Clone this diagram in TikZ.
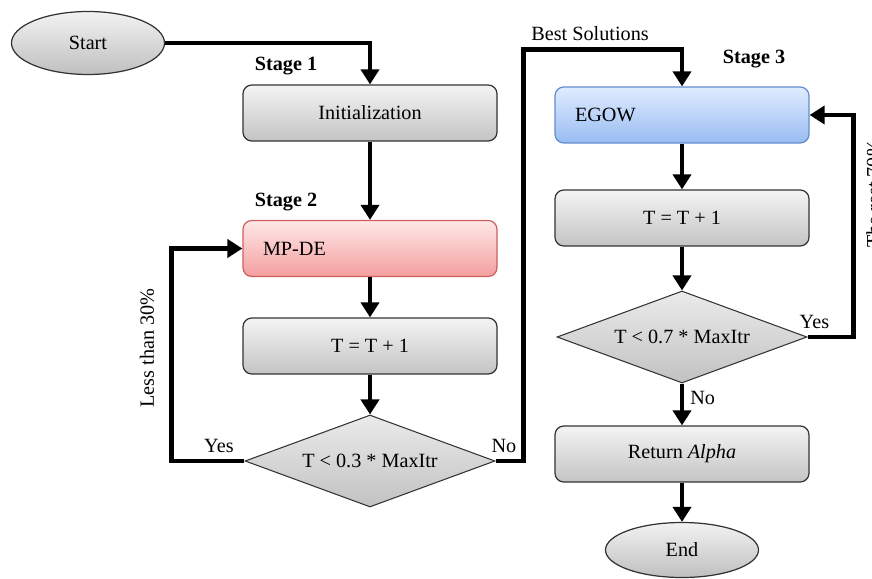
\documentclass[tikz,border=0pt]{standalone}
\usepackage{fontspec}
\setmainfont{Liberation Serif}
\usetikzlibrary{arrows.meta,positioning,shapes.geometric}
\newcommand{\fcfont}{\fontsize{11.5}{13}\selectfont}
\definecolor{fcgraytop}{RGB}{244,244,244}
\definecolor{fcgraybot}{RGB}{196,196,196}
\definecolor{fcredtop}{RGB}{255,232,232}
\definecolor{fcredbot}{RGB}{244,158,158}
\definecolor{fcredline}{RGB}{205,95,95}
\definecolor{fcbluetop}{RGB}{224,236,255}
\definecolor{fcbluebot}{RGB}{152,188,242}
\definecolor{fcblueline}{RGB}{100,140,205}
\tikzset{box/.style={draw=black!80,line width=0.7pt,rounded corners=5pt,minimum width=5.08cm,minimum height=1.12cm,
    inner sep=0pt,align=center,font=\fcfont,top color=fcgraytop,bottom color=fcgraybot},
  stagebox/.style={box,text width=4.28cm,align=left},
  decision/.style={diamond,draw=black!80,line width=0.6pt,minimum width=5.0cm,minimum height=1.84cm,aspect=2.7,
    inner sep=0pt,font=\fcfont,top color=black!8,bottom color=black!24},
  terminal/.style={ellipse,draw=black!80,line width=0.7pt,minimum width=3.06cm,minimum height=1.2cm,
    font=\fcfont,top color=black!5,bottom color=black!25},
  flow/.style={-{Triangle[length=0.3cm,width=0.36cm]},line width=2.8pt},
  labeltext/.style={font=\fcfont},
  stagetext/.style={font=\fcfont\bfseries}}

\begin{document}
\begin{tikzpicture}[x=1cm,y=1cm]
\useasboundingbox (0,0) rectangle (17.44,-11.58);
\node[terminal,minimum height=1.26cm] (start) at (1.76,-0.86) {Start};
\node[box] (init) at (7.40,-2.26) {Initialization};
\node[stagebox,top color=fcredtop,bottom color=fcredbot,draw=fcredline] (mpde) at (7.40,-4.97) {MP-DE};
\node[box] (inc1) at (7.40,-6.92) {T = T + 1};
\node[decision] (test1) at (7.40,-9.22) {T < 0.3 * MaxItr};
\node[stagebox,top color=fcbluetop,bottom color=fcbluebot,draw=fcblueline] (egow) at (13.64,-2.30) {EGOW};
\node[box] (inc2) at (13.64,-4.36) {T = T + 1};
\node[decision] (test2) at (13.64,-6.74) {T < 0.7 * MaxItr};
\node[box] (ret) at (13.64,-9.08) {Return \textit{Alpha}};
\node[terminal,minimum height=1.1cm] (stop) at (13.64,-11.0) {End};
% stage titles and side notes
\node[stagetext] (s1) at (5.72,-1.32) {Stage 1};
\node[stagetext] (s2) at (5.72,-4.04) {Stage 2};
\node[stagetext] (s3) at (15.08,-1.18) {Stage 3};
\node[labeltext,rotate=90] (lt30) at (2.94,-6.96) {Less than 30\%};
\node[labeltext,rotate=90] (rest70) at (17.47,-3.88) {The rest 70\%};
% stage 1 and 2
\draw[flow] (start.east) -| (init.north);
\draw[flow] (init) -- (mpde);
\draw[flow] (mpde) -- (inc1);
\draw[flow] (inc1) -- (test1);
\draw[flow] (test1.west) -- node[labeltext,above,pos=0.35] {Yes} ++(-1.46,0) |- (mpde.west);
\draw[flow] (test1.east) -- node[labeltext,above,pos=0.3] {No} ++(0.56,0)
  |- node[labeltext,above,pos=0.71] {Best Solutions} ([yshift=0.74cm]egow.north) -- (egow.north);
% stage 3
\draw[flow] (egow) -- (inc2);
\draw[flow] (inc2) -- (test2);
\draw[flow] (test2) -- node[labeltext,right,pos=0.35] {No} (ret);
\draw[flow] (ret) -- (stop);
\draw[flow] (test2.east) -- node[labeltext,above,pos=0.15] {Yes} ++(0.92,0) |- (egow.east);
\end{tikzpicture}
\end{document}
